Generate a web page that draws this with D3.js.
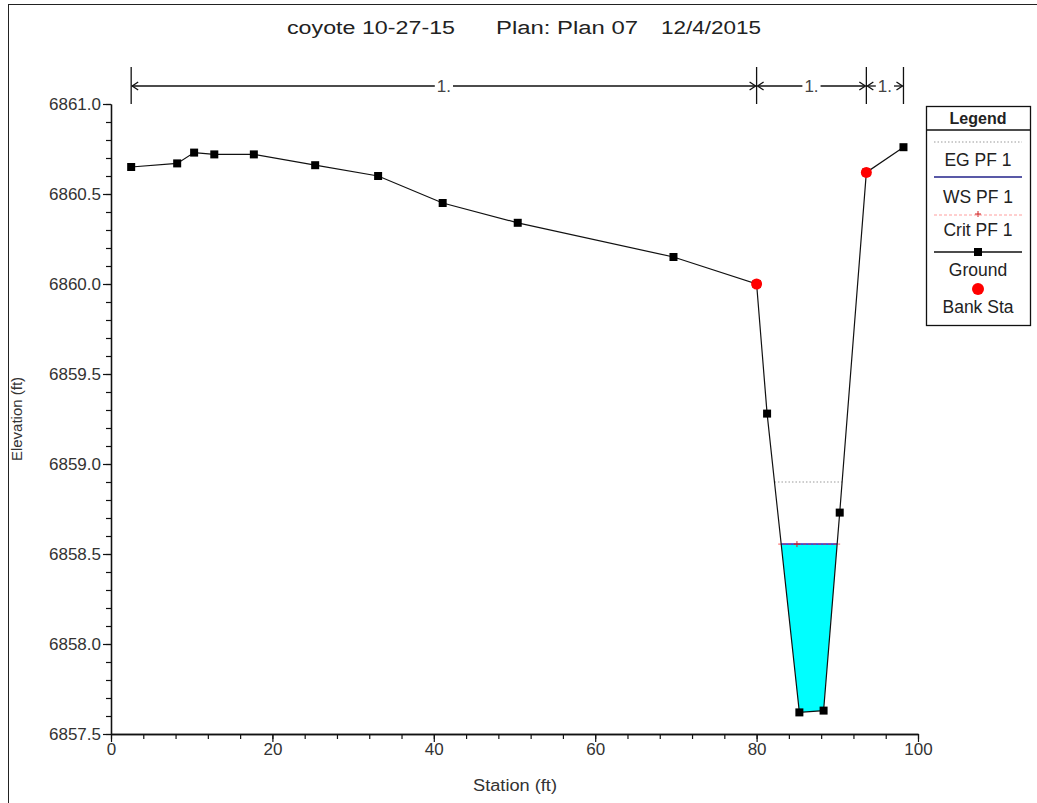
<!DOCTYPE html>
<html>
<head>
<meta charset="utf-8">
<script src="https://cdn.jsdelivr.net/npm/d3@7"></script>
<style>
  body { margin: 0; background: #fff; }
  svg { display: block; font-family: "Liberation Sans", Arial, sans-serif; }
</style>
</head>
<body>
<script>
// cross section data
const stations = [2.5, 8.2, 10.3, 12.8, 17.7, 25.3, 33.1, 41.1, 50.4, 69.7, 80.0, 81.3, 85.3, 88.3, 90.3, 93.6, 98.2];
const ground   = [6860.65, 6860.67, 6860.73, 6860.72, 6860.72, 6860.66, 6860.60, 6860.45, 6860.34, 6860.15, 6860.00, 6859.28, 6857.62, 6857.63, 6858.73, 6860.62, 6860.76];
const bankStations = [80.0, 93.6];
const wsElev = 6858.555;
const egElev = 6858.9;
const critElev = 6858.555;
const critStation = 85.0;
const reachBreaks = [2.5, 80.0, 93.6, 98.2];
const reachLabels = ["1.", "1.", "1."];
const xMajor = [0, 20, 40, 60, 80, 100];
const yMajor = [6857.5, 6858.0, 6858.5, 6859.0, 6859.5, 6860.0, 6860.5, 6861.0];
const legendItems = ["EG PF 1", "WS PF 1", "Crit PF 1", "Ground", "Bank Sta"];
const titleParts = ["coyote 10-27-15", "Plan: Plan 07", "12/4/2015"];

const W = 1037, H = 803;
const svg = d3.select("body").append("svg").attr("width", W).attr("height", H);

// outer frame (right and bottom edges fall off the page)
svg.append("rect")
  .attr("x", 8.5).attr("y", 4.5).attr("width", 1040).attr("height", 820)
  .attr("fill", "none").attr("stroke", "#222");

const x = d3.scaleLinear().domain([0, 100]).range([111, 918]);
const y = d3.scaleLinear().domain([6857.5, 6861.0]).range([734, 104]);

const pts = stations.map((s, i) => ({ s: s, z: ground[i] }));

// where a level crosses the channel, left and right of the thalweg
function crossings(elev) {
  const minI = d3.minIndex(pts, d => d.z);
  let left, right;
  for (let i = minI; i > 0; i--) {
    const a = pts[i - 1], b = pts[i];
    if (a.z >= elev && b.z <= elev) { left = a.s + (a.z - elev) / (a.z - b.z) * (b.s - a.s); break; }
  }
  for (let i = minI; i < pts.length - 1; i++) {
    const a = pts[i], b = pts[i + 1];
    if (a.z <= elev && b.z >= elev) { right = a.s + (elev - a.z) / (b.z - a.z) * (b.s - a.s); break; }
  }
  return [left, right];
}

// title: three pieces, the source font is a bit wider than Arial
const titleX = [287, 496, 661], titleW = [168, 142, 100];
svg.append("g").selectAll("text")
  .data(titleParts).join("text")
  .attr("x", (d, i) => titleX[i]).attr("y", 34)
  .attr("font-size", 18).attr("fill", "#222")
  .attr("textLength", (d, i) => titleW[i]).attr("lengthAdjust", "spacingAndGlyphs")
  .text(d => d);

// reach length arrows across the top
const arrowY = 86;
const reachG = svg.append("g").attr("class", "reaches");
reachBreaks.forEach(s => {
  reachG.append("line")
    .attr("x1", x(s)).attr("x2", x(s)).attr("y1", 67).attr("y2", 104)
    .attr("stroke", "#111").attr("stroke-width", 1.3);
});
reachLabels.forEach((lab, i) => {
  const a = x(reachBreaks[i]), b = x(reachBreaks[i + 1]);
  const mid = (a + b) / 2;
  const t = reachG.append("text")
    .attr("x", mid).attr("y", arrowY + 6).attr("text-anchor", "middle")
    .attr("font-size", 17).attr("fill", "#444").text(lab);
  const half = t.node().getComputedTextLength() / 2 + 2;
  reachG.append("line").attr("x1", a + 1).attr("x2", mid - half)
    .attr("y1", arrowY).attr("y2", arrowY).attr("stroke", "#111").attr("stroke-width", 1.3);
  reachG.append("line").attr("x1", mid + half).attr("x2", b - 1)
    .attr("y1", arrowY).attr("y2", arrowY).attr("stroke", "#111").attr("stroke-width", 1.3);
  // arrow heads pointing at the station lines
  reachG.append("path")
    .attr("d", `M${a + 7},${arrowY - 4} L${a + 1},${arrowY} L${a + 7},${arrowY + 4}`)
    .attr("fill", "none").attr("stroke", "#111").attr("stroke-width", 1.3);
  reachG.append("path")
    .attr("d", `M${b - 7},${arrowY - 4} L${b - 1},${arrowY} L${b - 7},${arrowY + 4}`)
    .attr("fill", "none").attr("stroke", "#111").attr("stroke-width", 1.3);
});

// water in the channel
const [wl, wr] = crossings(wsElev);
const wet = [{ s: wl, z: wsElev }]
  .concat(pts.filter(d => d.s > wl && d.s < wr))
  .concat([{ s: wr, z: wsElev }]);
const line = d3.line().x(d => x(d.s)).y(d => y(d.z));
svg.append("path")
  .attr("d", line(wet) + "Z")
  .attr("fill", "#00ffff").attr("stroke", "none");

// EG line
const [el, er] = crossings(egElev);
svg.append("line")
  .attr("x1", x(el)).attr("x2", x(er)).attr("y1", y(egElev)).attr("y2", y(egElev))
  .attr("stroke", "#999").attr("stroke-width", 1).attr("stroke-dasharray", "1.5,2");

// WS line
svg.append("line")
  .attr("x1", x(wl)).attr("x2", x(wr)).attr("y1", y(wsElev)).attr("y2", y(wsElev))
  .attr("stroke", "#2a2ad0").attr("stroke-width", 1.5);

// Crit line + marker
const [cl, cr] = crossings(critElev);
svg.append("line")
  .attr("x1", x(cl) - 3).attr("x2", x(cr) + 3).attr("y1", y(critElev)).attr("y2", y(critElev))
  .attr("stroke", "#ff3030").attr("stroke-width", 1).attr("stroke-dasharray", "3,2").attr("opacity", 0.8);
svg.append("path")
  .attr("d", `M${x(critStation) - 3},${y(critElev)} h6 M${x(critStation)},${y(critElev) - 3} v6`)
  .attr("stroke", "#d02020").attr("stroke-width", 1);

// ground
svg.append("path")
  .attr("d", line(pts))
  .attr("fill", "none").attr("stroke", "#111").attr("stroke-width", 1.2);
svg.append("g").selectAll("rect")
  .data(pts).join("rect")
  .attr("x", d => x(d.s) - 4).attr("y", d => y(d.z) - 4)
  .attr("width", 8).attr("height", 8).attr("fill", "#000");

// bank stations
const bankPts = bankStations.map(s => pts.find(p => p.s === s));
svg.append("g").selectAll("circle")
  .data(bankPts).join("circle")
  .attr("cx", d => x(d.s)).attr("cy", d => y(d.z)).attr("r", 5.5)
  .attr("fill", "#ff0000");

// axes
const yAxis = svg.append("g").attr("transform", "translate(111,0)");
yAxis.call(d3.axisLeft(y).tickValues(d3.range(6857.5, 6861.01, 0.1)).tickSize(5).tickSizeOuter(0).tickFormat(""));
const yMaj = svg.append("g").attr("transform", "translate(111,0)");
yMaj.call(d3.axisLeft(y).tickValues(yMajor).tickSize(8).tickSizeOuter(0).tickFormat(d3.format(".1f")));
yMaj.selectAll("text").attr("font-size", 17).attr("fill", "#333").attr("font-family", "Liberation Sans, Arial, sans-serif").attr("dx", 1);

const xAxis = svg.append("g").attr("transform", "translate(0,734)");
xAxis.call(d3.axisBottom(x).tickValues(d3.range(0, 100.1, 4)).tickSize(5).tickSizeOuter(0).tickFormat(""));
const xMaj = svg.append("g").attr("transform", "translate(0,734)");
xMaj.call(d3.axisBottom(x).tickValues(xMajor).tickSize(8).tickSizeOuter(0).tickFormat(d3.format("d")));
xMaj.selectAll("text").attr("font-size", 17).attr("fill", "#333").attr("font-family", "Liberation Sans, Arial, sans-serif").attr("dy", "0.6em");
svg.selectAll(".domain").attr("stroke", "#111").attr("stroke-width", 1.3);
svg.selectAll(".tick line").attr("stroke", "#111").attr("stroke-width", 1.2);

svg.append("text")
  .attr("transform", "translate(22,419) rotate(-90)")
  .attr("text-anchor", "middle").attr("font-size", 15).attr("fill", "#333")
  .text("Elevation (ft)");
svg.append("text")
  .attr("x", 515).attr("y", 791).attr("text-anchor", "middle")
  .attr("font-size", 16).attr("fill", "#333")
  .attr("textLength", 84).attr("lengthAdjust", "spacingAndGlyphs")
  .text("Station (ft)");

// legend
const lg = svg.append("g").attr("class", "legend");
const lx0 = 926, lx1 = 1030, lTop = 106, lDiv = 130, lBot = 325;
lg.append("rect").attr("x", lx0 + 0.5).attr("y", lTop + 0.5)
  .attr("width", lx1 - lx0).attr("height", lBot - lTop)
  .attr("fill", "#fff").attr("stroke", "#111").attr("stroke-width", 1.3);
lg.append("line").attr("x1", lx0).attr("x2", lx1).attr("y1", lDiv).attr("y2", lDiv)
  .attr("stroke", "#111").attr("stroke-width", 1.3);
const lcx = (lx0 + lx1) / 2;
lg.append("text").attr("x", lcx).attr("y", lDiv - 6).attr("text-anchor", "middle")
  .attr("font-size", 16).attr("font-weight", "bold").attr("fill", "#222").text("Legend");
const symY = [142, 177, 214, 252, 289];
const txtY = [166, 203, 236, 276, 313];
const sx0 = lx0 + 8, sx1 = lx1 - 8;
// EG
lg.append("line").attr("x1", sx0).attr("x2", sx1).attr("y1", symY[0]).attr("y2", symY[0])
  .attr("stroke", "#999").attr("stroke-dasharray", "1.5,2");
// WS
lg.append("line").attr("x1", sx0).attr("x2", sx1).attr("y1", symY[1]).attr("y2", symY[1])
  .attr("stroke", "#22228a").attr("stroke-width", 1.5);
// Crit
lg.append("line").attr("x1", sx0).attr("x2", sx1).attr("y1", symY[2] + 1).attr("y2", symY[2] + 1)
  .attr("stroke", "#ff6060").attr("stroke-dasharray", "3,2").attr("opacity", 0.6);
lg.append("path").attr("d", `M${lcx - 3},${symY[2]} h6 M${lcx},${symY[2] - 3} v6`)
  .attr("stroke", "#d02020");
// Ground
lg.append("line").attr("x1", sx0).attr("x2", sx1).attr("y1", symY[3]).attr("y2", symY[3])
  .attr("stroke", "#111").attr("stroke-width", 1.3);
lg.append("rect").attr("x", lcx - 4).attr("y", symY[3] - 4).attr("width", 8).attr("height", 8).attr("fill", "#000");
// Bank Sta
lg.append("circle").attr("cx", lcx).attr("cy", symY[4]).attr("r", 6).attr("fill", "#ff0000");
lg.selectAll("text.item").data(legendItems).join("text")
  .attr("class", "item")
  .attr("x", lcx).attr("y", (d, i) => txtY[i]).attr("text-anchor", "middle")
  .attr("font-size", 17.5).attr("fill", "#222").text(d => d);
</script>
</body>
</html>
